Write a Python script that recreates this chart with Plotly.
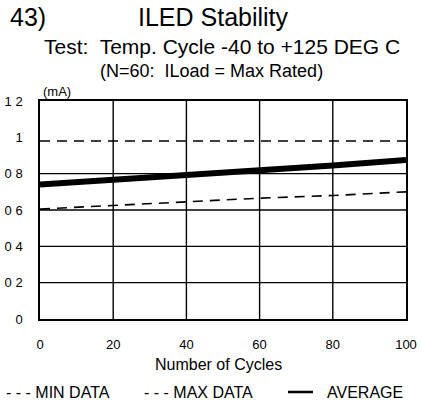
import plotly.graph_objects as go

# Temperature-cycle stability of LED current
cycles = [0, 20, 40, 60, 80, 100]
min_data = [0.605, 0.625, 0.645, 0.665, 0.68, 0.70]
max_data = [0.98, 0.98, 0.98, 0.98, 0.98, 0.98]
average = [0.74, 0.765, 0.79, 0.815, 0.845, 0.875]

y_ticks = [0, 0.2, 0.4, 0.6, 0.8, 1.0, 1.2]
y_tick_text = ["0", "0 2", "0 4", "0 6", "0 8", "1", "1 2"]
x_ticks = [0, 20, 40, 60, 80, 100]
x_grid = [20, 40, 60, 80]
y_grid = [0.2, 0.4, 0.6, 0.8]

FONT = "Liberation Sans, Arial, sans-serif"
W, H = 421, 402
ML, MR, MT, MB = 40, 15, 101, 83
PW, PH = W - ML - MR, H - MT - MB


def px(xp):
    """pixel x -> paper x"""
    return (xp - ML) / PW


def py(yp):
    """pixel y (from top) -> paper y"""
    return (H - MB - yp) / PH


fig = go.Figure()
fig.add_trace(go.Scatter(x=cycles, y=min_data, mode="lines", name="MIN DATA",
                         line=dict(color="black", width=1.6, dash="10px,7px")))
fig.add_trace(go.Scatter(x=cycles, y=max_data, mode="lines", name="MAX DATA",
                         line=dict(color="black", width=1.6, dash="10px,7px")))
fig.add_trace(go.Scatter(x=cycles, y=average, mode="lines", name="AVERAGE",
                         line=dict(color="black", width=6)))

shapes = []
for gx in x_grid:
    shapes.append(dict(type="line", xref="x", yref="y", x0=gx, x1=gx, y0=0, y1=1.2,
                       line=dict(color="black", width=1.4), layer="below"))
for gy in y_grid:
    shapes.append(dict(type="line", xref="x", yref="y", x0=0, x1=100, y0=gy, y1=gy,
                       line=dict(color="black", width=1.4), layer="below"))
# key swatch for the average line
shapes.append(dict(type="line", xref="paper", yref="paper",
                   x0=px(288), x1=px(313), y0=py(392), y1=py(392),
                   line=dict(color="black", width=2.5)))


def text(t, x, y, size, anchor="center"):
    return dict(text=t, x=px(x), y=py(y), xref="paper", yref="paper",
                showarrow=False, xanchor=anchor, yanchor="middle",
                font=dict(size=size))


annotations = [
    text("43)", 8, 17, 25, "left"),
    text("ILED Stability", 213, 17, 25),
    text("Test:  Temp. Cycle -40 to +125 DEG C", 222, 47, 21),
    text("(N=60:  ILoad = Max Rated)", 211, 71, 18),
    text("(mA)", 41, 91, 13, "left"),
    text("Number of Cycles", 218, 364, 16),
    text("- - - MIN DATA", 4, 392, 16, "left"),
    text("- - - MAX DATA", 142, 392, 16, "left"),
    text("AVERAGE", 325, 392, 16, "left"),
]

fig.update_layout(
    width=W, height=H,
    margin=dict(l=ML, r=MR, t=MT, b=MB),
    paper_bgcolor="white", plot_bgcolor="white",
    font=dict(family=FONT, color="black", size=13),
    shapes=shapes,
    annotations=annotations,
    showlegend=False,
)

fig.update_xaxes(range=[0, 100], tickvals=x_ticks, showgrid=False, zeroline=False,
                 showline=True, mirror=True, linecolor="black", linewidth=1.5,
                 ticks="", ticklabelstandoff=13, tickfont=dict(size=13),
                 automargin=False)
fig.update_yaxes(range=[0, 1.2], tickvals=y_ticks, ticktext=y_tick_text,
                 showgrid=False, zeroline=False,
                 showline=True, mirror=True, linecolor="black", linewidth=1.5,
                 ticks="", ticklabelstandoff=13, tickfont=dict(size=13),
                 automargin=False)

fig.write_html("out.html")
